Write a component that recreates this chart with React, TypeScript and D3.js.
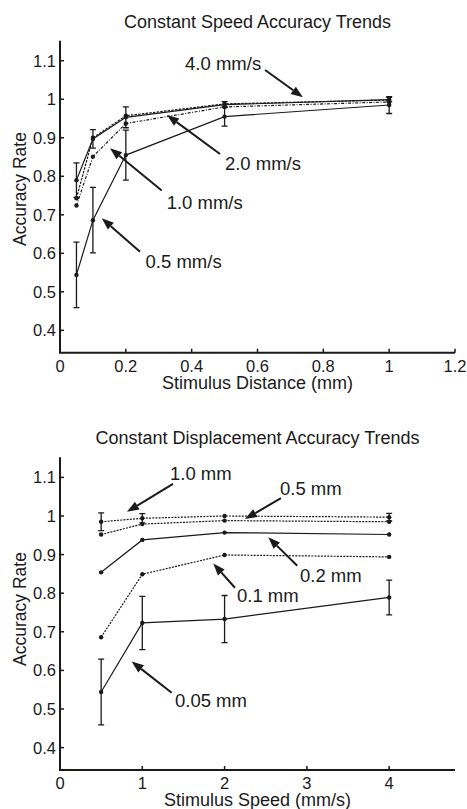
import * as d3 from "d3";
import { useEffect, useRef } from "react";

// x values
const distances = [0.05, 0.1, 0.2, 0.5, 1.0];
const speeds = [0.5, 1, 2, 4];

// top panel: accuracy vs distance, one line per speed
const speed05 = [0.544, 0.686, 0.855, 0.955, 0.985];
const speed05Err = [0.085, 0.085, 0.065, 0.025, 0.022];
const speed10 = [0.724, 0.851, 0.937, 0.98, 0.993];
const speed20 = [0.743, 0.9, 0.957, 0.988, 0.998];
const speed40 = [0.79, 0.897, 0.953, 0.986, 0.999];
const speed40Err = [0.045, 0.024, 0.027, 0.008, 0.006];

// bottom panel: accuracy vs speed, one line per displacement
const disp005 = [0.544, 0.723, 0.733, 0.789];
const disp005Err = [0.085, 0.069, 0.061, 0.045];
const disp01 = [0.686, 0.849, 0.899, 0.894];
const disp02 = [0.854, 0.938, 0.957, 0.952];
const disp05 = [0.952, 0.979, 0.988, 0.985];
const disp10 = [0.985, 0.994, 1.0, 0.997];
const disp10Err = [0.023, 0.012, 0, 0.01];

const distTicks = [0, 0.2, 0.4, 0.6, 0.8, 1, 1.2];
const speedTicks = [0, 1, 2, 3, 4];
const rateTicks = [0.4, 0.5, 0.6, 0.7, 0.8, 0.9, 1, 1.1];

const FONT = "'Liberation Sans', Arial, Helvetica, sans-serif";
const INK = "#1a1a1a";

type Series = { values: number[]; err?: number[]; dash?: string };
type Note = { text: string; at: [number, number]; from: [number, number]; tip: [number, number] };

const panels = [
  {
    title: "Constant Speed Accuracy Trends",
    xLabel: "Stimulus Distance (mm)",
    xs: distances,
    xDomain: [0, 1.2],
    xTicks: distTicks,
    top: 40.7,
    bottom: 352.7,
    titleY: 21.7,
    tickY: 365.7,
    labelY: 383.3,
    yLabelY: 189,
    series: [
      { values: speed05, err: speed05Err },
      { values: speed10, dash: "3,1.5,1,1.5" },
      { values: speed20, dash: "2.5,1.2" },
      { values: speed40, err: speed40Err },
    ] as Series[],
    notes: [
      { text: "4.0 mm/s", at: [0.38, 1.094], from: [0.623, 1.076], tip: [0.738, 1.005] },
      { text: "2.0 mm/s", at: [0.501, 0.832], from: [0.486, 0.858], tip: [0.325, 0.959] },
      { text: "1.0 mm/s", at: [0.324, 0.733], from: [0.309, 0.763], tip: [0.152, 0.873] },
      { text: "0.5 mm/s", at: [0.26, 0.578], from: [0.243, 0.604], tip: [0.127, 0.691] },
    ] as Note[],
  },
  {
    title: "Constant Displacement Accuracy Trends",
    xLabel: "Stimulus Speed (mm/s)",
    xs: speeds,
    xDomain: [0, 4.8],
    xTicks: speedTicks,
    top: 457.3,
    bottom: 770,
    titleY: 438.3,
    tickY: 782.7,
    labelY: 800,
    yLabelY: 609,
    series: [
      { values: disp005, err: disp005Err },
      { values: disp01, dash: "2,1.2" },
      { values: disp02 },
      { values: disp05, dash: "2,1.2" },
      { values: disp10, err: disp10Err, dash: "2,1.2" },
    ] as Series[],
    notes: [
      { text: "1.0 mm", at: [1.337, 1.111], from: [1.373, 1.083], tip: [0.814, 1.011] },
      { text: "0.5 mm", at: [2.673, 1.07], from: [2.685, 1.046], tip: [2.248, 0.992] },
      { text: "0.2 mm", at: [2.916, 0.847], from: [2.883, 0.871], tip: [2.531, 0.945] },
      { text: "0.1 mm", at: [2.151, 0.794], from: [2.126, 0.814], tip: [1.863, 0.877] },
      { text: "0.05 mm", at: [1.397, 0.523], from: [1.357, 0.542], tip: [0.871, 0.623] },
    ] as Note[],
  },
];

const left = 60;
const right = 455;

const App = () => {
  const ref = useRef<SVGSVGElement>(null);

  useEffect(() => {
    const svg = d3.select(ref.current);
    svg.selectAll("*").remove();

    panels.forEach((p) => {
      const x = d3.scaleLinear().domain(p.xDomain).range([left, right]);
      const y = d3.scaleLinear().domain([0.342, 1.152]).range([p.bottom, p.top]);
      const g = svg.append("g");

      // lines, dots, error bars
      p.series.forEach((s) => {
        const pts = s.values.map((v, i) => [p.xs[i], v] as [number, number]);
        const line = d3.line<[number, number]>().x((d) => x(d[0])).y((d) => y(d[1]));
        g.append("path")
          .attr("d", line(pts))
          .attr("fill", "none")
          .attr("stroke", INK)
          .attr("stroke-width", 1.2)
          .attr("stroke-dasharray", s.dash || null);

        if (s.err) {
          s.err.forEach((e, i) => {
            if (!e) return;
            const cx = x(p.xs[i]);
            const y1 = y(s.values[i] + e);
            const y2 = y(s.values[i] - e);
            g.append("path")
              .attr("d", `M${cx},${y1}V${y2}M${cx - 3},${y1}H${cx + 3}M${cx - 3},${y2}H${cx + 3}`)
              .attr("stroke", INK)
              .attr("stroke-width", 1.3)
              .attr("fill", "none");
          });
        }

        g.selectAll(null)
          .data(pts)
          .enter()
          .append("circle")
          .attr("cx", (d) => x(d[0]))
          .attr("cy", (d) => y(d[1]))
          .attr("r", 2.2)
          .attr("fill", INK);
      });

      // axes (box off, ticks pointing in)
      g.append("line")
        .attr("x1", left).attr("x2", left)
        .attr("y1", p.top).attr("y2", p.bottom)
        .attr("stroke", INK).attr("stroke-width", 2);
      g.append("line")
        .attr("x1", left - 1).attr("x2", right)
        .attr("y1", p.bottom).attr("y2", p.bottom)
        .attr("stroke", INK).attr("stroke-width", 2);

      rateTicks.forEach((t) => {
        g.append("line")
          .attr("x1", left).attr("x2", left + 4)
          .attr("y1", y(t)).attr("y2", y(t))
          .attr("stroke", INK).attr("stroke-width", 1.5);
        g.append("text")
          .attr("x", left - 4)
          .attr("y", y(t))
          .attr("text-anchor", "end")
          .attr("dominant-baseline", "central")
          .style("font", `16.5px ${FONT}`)
          .attr("fill", INK)
          .text(String(t));
      });

      p.xTicks.forEach((t) => {
        g.append("line")
          .attr("x1", x(t)).attr("x2", x(t))
          .attr("y1", p.bottom).attr("y2", p.bottom - 4)
          .attr("stroke", INK).attr("stroke-width", 1.5);
        g.append("text")
          .attr("x", x(t))
          .attr("y", p.tickY)
          .attr("text-anchor", "middle")
          .attr("dominant-baseline", "central")
          .style("font", `16.5px ${FONT}`)
          .attr("fill", INK)
          .text(String(t));
      });

      g.append("text")
        .attr("x", (left + right) / 2)
        .attr("y", p.titleY)
        .attr("text-anchor", "middle")
        .attr("dominant-baseline", "central")
        .style("font", `18px ${FONT}`)
        .attr("fill", INK)
        .text(p.title);

      g.append("text")
        .attr("x", (left + right) / 2)
        .attr("y", p.labelY)
        .attr("text-anchor", "middle")
        .attr("dominant-baseline", "central")
        .style("font", `18px ${FONT}`)
        .attr("fill", INK)
        .text(p.xLabel);

      g.append("text")
        .attr("transform", `translate(20, ${p.yLabelY}) rotate(-90)`)
        .attr("text-anchor", "middle")
        .attr("dominant-baseline", "central")
        .style("font", `17.5px ${FONT}`)
        .attr("fill", INK)
        .text("Accuracy Rate");

      // annotations with arrows
      p.notes.forEach((n) => {
        g.append("text")
          .attr("x", x(n.at[0]))
          .attr("y", y(n.at[1]))
          .attr("dominant-baseline", "central")
          .style("font", `18.5px ${FONT}`)
          .attr("fill", INK)
          .text(n.text);

        const fx = x(n.from[0]), fy = y(n.from[1]);
        const tx = x(n.tip[0]), ty = y(n.tip[1]);
        const len = Math.hypot(tx - fx, ty - fy);
        const ux = (tx - fx) / len, uy = (ty - fy) / len;
        const head = 12, half = 4.5;
        const bx = tx - ux * head, by = ty - uy * head;
        g.append("line")
          .attr("x1", fx).attr("y1", fy)
          .attr("x2", bx).attr("y2", by)
          .attr("stroke", INK).attr("stroke-width", 2);
        g.append("polygon")
          .attr("points", `${tx},${ty} ${bx - uy * half},${by + ux * half} ${bx + uy * half},${by - ux * half}`)
          .attr("fill", INK);
      });
    });
  }, []);

  return (
    <svg
      ref={ref}
      width={467}
      height={809}
      style={{ position: "absolute", left: 0, top: 0, background: "#fff" }}
    ></svg>
  );
};

export default App;
